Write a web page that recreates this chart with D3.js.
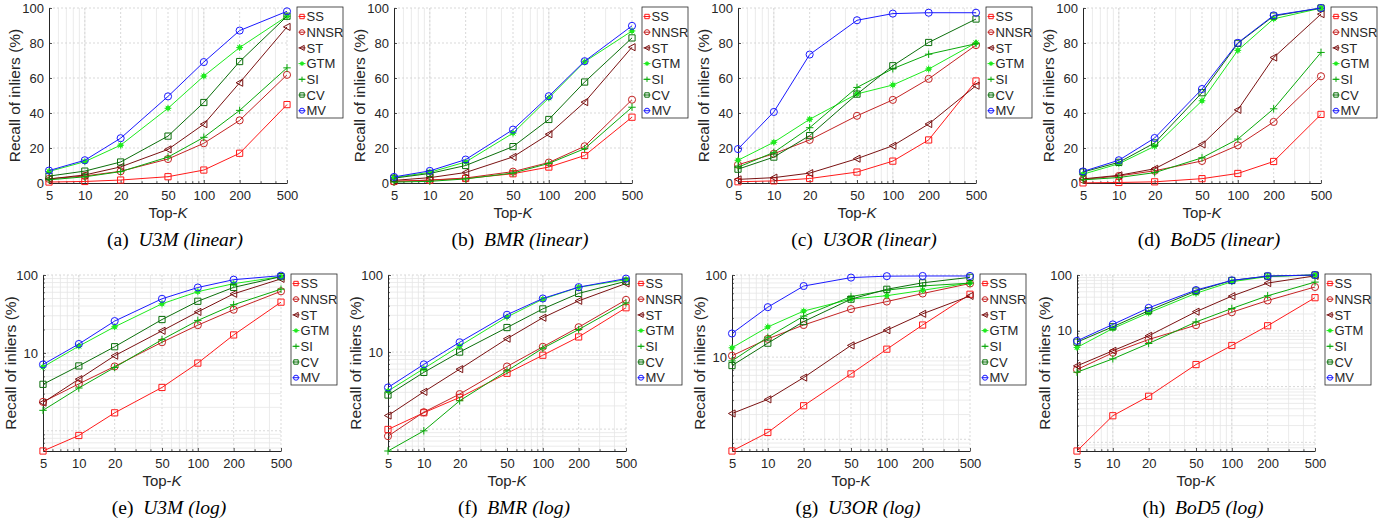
<!DOCTYPE html>
<html>
<head>
<meta charset="utf-8">
<script src="https://cdn.jsdelivr.net/npm/d3@7"></script>
<style>
  body { margin: 0; background: #fff; }
  svg { display: block; }
  .ax text { font-family: "Liberation Sans", Arial, sans-serif; fill: #262626; }
  .cap { font-family: "Liberation Serif", "DejaVu Serif", serif; fill: #000; }
</style>
</head>
<body>
<svg id="fig" width="1397" height="531"></svg>
<script>
// Top-K values on the x axis and the extra minor grid positions
const topK = [5, 10, 20, 50, 100, 200, 500];
const minorK = [6, 7, 8, 9, 30, 40, 60, 70, 80, 90, 300, 400];
const linearTicks = [0, 20, 40, 60, 80, 100];
const logTicks = [10, 100];

const methods = ["SS", "NNSR", "ST", "GTM", "SI", "CV", "MV"];
const methodColors = ["#ff1a1a", "#c42424", "#7a1212", "#1eea1e", "#0aa90a", "#0b6f0b", "#1a1aff"];
const methodMarkers = ["square", "circle", "triLeft", "star", "plus", "square", "circle"];

const datasets = ["U3M", "BMR", "U3OR", "BoD5"];
const panelLetters = ["a", "b", "c", "d", "e", "f", "g", "h"];

// Recall of inliers (%) per method (rows follow `methods`), columns follow `topK`
const recallU3M = [
  [0.55, 0.87, 1.7, 3.6, 7.4, 17.0, 44.8],
  [2.35, 4.0, 6.7, 13.7, 22.7, 35.8, 61.8],
  [2.3, 4.6, 9.2, 19.2, 33.6, 57.3, 89.2],
  [6.6, 12.2, 21.6, 42.7, 61.1, 77.4, 95.3],
  [1.83, 3.54, 6.5, 14.8, 26.1, 41.5, 65.8],
  [3.95, 6.8, 12.0, 26.8, 46.0, 69.4, 95.3],
  [7.1, 13.0, 25.6, 49.5, 69.1, 87.1, 98.1]
];
const recallBMR = [
  [0.99, 1.63, 2.58, 5.3, 9.1, 15.7, 37.6],
  [0.81, 1.66, 2.85, 6.5, 11.7, 21.0, 47.6],
  [1.5, 3.05, 6.0, 14.9, 27.9, 46.2, 77.6],
  [3.12, 6.1, 12.0, 28.5, 48.6, 69.3, 86.9],
  [0.52, 0.95, 2.33, 5.7, 11.2, 19.6, 43.3],
  [2.77, 5.45, 10.0, 20.8, 36.3, 57.7, 82.9],
  [3.47, 6.92, 13.4, 30.5, 49.6, 69.6, 89.8]
];
const recallU3OR = [
  [0.72, 1.21, 2.56, 6.25, 12.5, 24.6, 58.3],
  [10.4, 16.7, 24.6, 38.4, 47.5, 59.5, 78.8],
  [2.06, 3.06, 5.64, 13.9, 21.3, 33.7, 55.6],
  [13.0, 23.3, 36.4, 50.9, 56.0, 65.1, 80.1],
  [9.0, 17.5, 31.6, 54.6, 65.3, 73.6, 79.6],
  [7.9, 14.8, 27.1, 50.8, 67.0, 80.3, 93.7],
  [19.4, 40.6, 73.4, 93.0, 96.8, 97.3, 97.3]
];
const recallBoD5 = [
  [0.07, 0.3, 0.67, 2.48, 5.45, 12.3, 39.2],
  [2.02, 4.03, 6.98, 12.6, 21.5, 34.9, 61.0],
  [2.35, 4.38, 8.13, 22.0, 41.8, 71.7, 96.5],
  [5.02, 11.0, 21.0, 47.0, 75.8, 93.8, 99.9],
  [1.81, 3.14, 5.92, 14.4, 25.1, 42.4, 74.6],
  [6.26, 11.8, 22.9, 51.6, 79.8, 95.4, 100],
  [6.6, 13.0, 25.7, 53.7, 80.1, 95.8, 100]
];
const recallSets = [recallU3M, recallBMR, recallU3OR, recallBoD5];

const svg = d3.select("#fig");
const axisColor = "#262626";

function markerPath(kind, s) {
  const p = d3.path();
  if (kind === "square") { p.rect(-s, -s, 2 * s, 2 * s); }
  else if (kind === "circle") { p.moveTo(s * 1.15, 0); p.arc(0, 0, s * 1.15, 0, 2 * Math.PI); }
  else if (kind === "triLeft") { p.moveTo(-s * 1.15, 0); p.lineTo(s, -s * 1.15); p.lineTo(s, s * 1.15); p.closePath(); }
  else if (kind === "plus") { p.moveTo(-s * 1.2, 0); p.lineTo(s * 1.2, 0); p.moveTo(0, -s * 1.2); p.lineTo(0, s * 1.2); }
  else if (kind === "star") {
    const r = s * 1.1;
    p.moveTo(-r, 0); p.lineTo(r, 0); p.moveTo(0, -r); p.lineTo(0, r);
    const d = r * 0.7;
    p.moveTo(-d, -d); p.lineTo(d, d); p.moveTo(-d, d); p.lineTo(d, -d);
  }
  return p.toString();
}

function drawMarker(g, kind, color, s) {
  g.append("path").attr("d", markerPath(kind, s))
    .attr("fill", "none").attr("stroke", color).attr("stroke-width", 1);
  if (kind === "star") {
    g.append("circle").attr("r", s * 0.75).attr("fill", color);
  }
}

function drawPanel(opt) {
  const { L, T, W, H, log, data, letter, name, labelGap } = opt;
  const B = T + H, R = L + W;
  const g = svg.append("g").attr("class", "ax");
  const x = d3.scaleLog().domain([5, 500]).range([L, R]);
  let y;
  if (log) {
    const lo = d3.min(data.flat());
    y = d3.scaleLog().domain([lo, 100]).range([B, T]);
  } else {
    y = d3.scaleLinear().domain([0, 100]).range([B, T]);
  }

  // grid
  const grid = g.append("g");
  minorK.forEach(k => grid.append("line").attr("x1", x(k)).attr("x2", x(k)).attr("y1", T).attr("y2", B)
    .attr("stroke", "#e6e6e6").attr("stroke-width", 0.8));
  [10, 100].forEach(k => grid.append("line").attr("x1", x(k)).attr("x2", x(k)).attr("y1", T).attr("y2", B)
    .attr("stroke", "#e6e6e6").attr("stroke-width", 0.8));
  topK.slice(1).forEach(k => grid.append("line").attr("x1", x(k)).attr("x2", x(k)).attr("y1", T).attr("y2", B)
    .attr("stroke", "#cfcfcf").attr("stroke-width", 0.8).attr("stroke-dasharray", "2,2"));
  let yMinor = [];
  if (log) {
    const [lo, hi] = y.domain();
    for (let e = -2; e <= 2; e++) {
      for (let m = 2; m <= 9; m++) {
        const v = m * Math.pow(10, e);
        if (v > lo && v < hi) yMinor.push(v);
      }
    }
    yMinor.forEach(v => grid.append("line").attr("x1", L).attr("x2", R).attr("y1", y(v)).attr("y2", y(v))
      .attr("stroke", "#e6e6e6").attr("stroke-width", 0.8));
    [0.1, 1, 10, 100].filter(v => v >= lo).forEach(v => grid.append("line").attr("x1", L).attr("x2", R)
      .attr("y1", y(v)).attr("y2", y(v)).attr("stroke", "#cfcfcf").attr("stroke-width", 0.8).attr("stroke-dasharray", "2,2"));
  } else {
    linearTicks.slice(1).forEach(v => grid.append("line").attr("x1", L).attr("x2", R).attr("y1", y(v)).attr("y2", y(v))
      .attr("stroke", "#cfcfcf").attr("stroke-width", 0.8).attr("stroke-dasharray", "2,2"));
  }

  // axes with inward ticks
  const xAxis = d3.axisBottom(x).tickValues(topK).tickFormat(d3.format("d")).tickSizeInner(-3).tickSizeOuter(0).tickPadding(8);
  const xa = g.append("g").attr("transform", `translate(0,${B})`).call(xAxis);
  const xMinor = d3.axisBottom(x).tickValues(minorK).tickFormat("").tickSizeInner(-1.8).tickSizeOuter(0);
  g.append("g").attr("transform", `translate(0,${B})`).call(xMinor).select(".domain").remove();
  const yAxis = d3.axisLeft(y).tickValues(log ? logTicks : linearTicks).tickFormat(d3.format("d"))
    .tickSizeInner(-3).tickSizeOuter(0).tickPadding(5);
  const ya = g.append("g").attr("transform", `translate(${L},0)`).call(yAxis);
  if (log) {
    const yMinorAxis = d3.axisLeft(y).tickValues(yMinor).tickFormat("").tickSizeInner(-1.8).tickSizeOuter(0);
    g.append("g").attr("transform", `translate(${L},0)`).call(yMinorAxis).select(".domain").remove();
  }
  g.selectAll(".domain").attr("stroke", axisColor).attr("stroke-width", 1);
  g.selectAll(".tick line").attr("stroke", axisColor).attr("stroke-width", 0.8);
  xa.selectAll("text").attr("font-size", 13).attr("fill", axisColor);
  ya.selectAll("text").attr("font-size", 13).attr("fill", axisColor);

  // axis titles
  const xt = g.append("text").attr("x", (L + R) / 2).attr("y", B + 35).attr("text-anchor", "middle")
    .attr("font-size", 15).attr("fill", axisColor);
  xt.append("tspan").text("Top-");
  xt.append("tspan").attr("font-style", "italic").text("K");
  g.append("text").attr("transform", `translate(${L - labelGap},${(T + B) / 2}) rotate(-90)`)
    .attr("text-anchor", "middle").attr("font-size", 15.5).attr("fill", axisColor)
    .text("Recall of inliers (%)");

  // series
  const line = d3.line().x((v, i) => x(topK[i])).y(v => y(v));
  data.forEach((vals, m) => {
    g.append("path").attr("d", line(vals)).attr("fill", "none")
      .attr("stroke", methodColors[m]).attr("stroke-width", 1);
    vals.forEach((v, i) => {
      const mg = g.append("g").attr("transform", `translate(${x(topK[i])},${y(v)})`);
      drawMarker(mg, methodMarkers[m], methodColors[m], 3.1);
    });
  });

  // legend
  const lx = L + 248, ly = T - 1, lw = 46, lh = 111;
  const lg = g.append("g");
  lg.append("rect").attr("x", lx).attr("y", ly).attr("width", lw).attr("height", lh)
    .attr("fill", "#fff").attr("stroke", axisColor).attr("stroke-width", 0.8);
  methods.forEach((name, m) => {
    const cy = ly + 9.5 + m * 15.7;
    lg.append("line").attr("x1", lx + 1.5).attr("x2", lx + 8.5).attr("y1", cy).attr("y2", cy)
      .attr("stroke", methodColors[m]).attr("stroke-width", 1);
    const mg = lg.append("g").attr("transform", `translate(${lx + 5},${cy})`);
    drawMarker(mg, methodMarkers[m], methodColors[m], 2.2);
    lg.append("text").attr("x", lx + 9.5).attr("y", cy).attr("dy", "0.36em")
      .attr("font-size", 13).attr("fill", axisColor).text(name);
  });

  // caption
  const cap = svg.append("text").attr("class", "cap").attr("x", L + 126).attr("y", B + 63)
    .attr("text-anchor", "middle").attr("font-size", 19.5);
  cap.append("tspan").text(`(${letter})\u2002`);
  cap.append("tspan").attr("font-style", "italic").text(`${name} (${log ? "log" : "linear"})`);
}

const topLefts = [49, 394, 738, 1083];
const bottomLefts = [43, 388, 732, 1077];
datasets.forEach((name, i) => {
  drawPanel({ L: topLefts[i], T: 8, W: 238, H: 175, log: false, data: recallSets[i], letter: panelLetters[i], name, labelGap: 29 });
  drawPanel({ L: bottomLefts[i], T: 275, W: 238, H: 176, log: true, data: recallSets[i], letter: panelLetters[i + 4], name, labelGap: 27.5 });
});
</script>
</body>
</html>
